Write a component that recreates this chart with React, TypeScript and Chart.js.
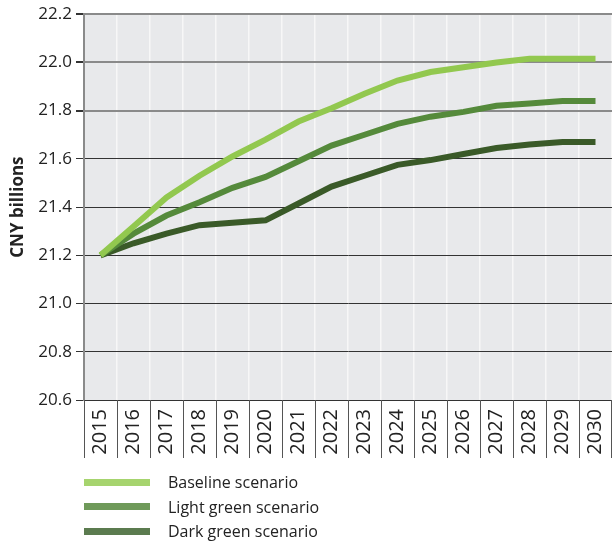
import React, { useEffect, useRef } from "react";
import { Chart, registerables } from "chart.js";

Chart.register(...registerables);

const years = ["2015","2016","2017","2018","2019","2020","2021","2022","2023","2024","2025","2026","2027","2028","2029","2030"];
const baseline = [21.2, 21.32, 21.44, 21.53, 21.61, 21.68, 21.755, 21.81, 21.87, 21.925, 21.96, 21.98, 22.0, 22.015, 22.015, 22.015];
const lightGreen = [21.2, 21.29, 21.365, 21.42, 21.48, 21.525, 21.59, 21.655, 21.70, 21.745, 21.775, 21.795, 21.82, 21.83, 21.84, 21.84];
const darkGreen = [21.2, 21.25, 21.29, 21.325, 21.335, 21.345, 21.415, 21.485, 21.53, 21.575, 21.595, 21.62, 21.645, 21.66, 21.67, 21.67];
const seriesNames = ["Baseline scenario", "Light green scenario", "Dark green scenario"];
const lineColors = ["#92c84f", "#558a3b", "#3a5a28"];
const legendColors = ["#a6d46e", "#6f9a5a", "#5b7b4f"];
const yTicks = [20.6, 20.8, 21.0, 21.2, 21.4, 21.6, 21.8, 22.0, 22.2];

const FONT = "'Open Sans', sans-serif";

const bgPlugin = {
  id: "plotBg",
  beforeDraw(chart: any) {
    const { ctx, chartArea } = chart;
    ctx.save();
    ctx.fillStyle = "#e8e9eb";
    ctx.fillRect(chartArea.left, chartArea.top, chartArea.right - chartArea.left, chartArea.bottom - chartArea.top);
    ctx.restore();
  },
};

const xBoxPlugin = {
  id: "xBoxes",
  afterDraw(chart: any) {
    const { ctx, chartArea } = chart;
    const xs = chart.scales.x;
    const step = xs.getPixelForValue(1) - xs.getPixelForValue(0);
    ctx.save();
    ctx.strokeStyle = "#555";
    ctx.lineWidth = 1;
    for (let i = 0; i <= years.length; i++) {
      const p = i < years.length ? xs.getPixelForValue(i) - step / 2 : xs.getPixelForValue(years.length - 1) + step / 2;
      const x = Math.min(Math.round(p) + 0.5, chart.width - 0.5);
      ctx.beginPath();
      ctx.moveTo(x, chartArea.bottom);
      ctx.lineTo(x, 458);
      ctx.stroke();
    }
    ctx.restore();
  },
};

export default function App() {
  const ref = useRef<HTMLCanvasElement | null>(null);
  useEffect(() => {
    document.body.style.margin = "0";
    const chart = new Chart(ref.current as HTMLCanvasElement, {
      type: "line",
      data: {
        labels: years,
        datasets: [baseline, lightGreen, darkGreen].map((d, i) => ({
          label: seriesNames[i],
          data: d,
          borderColor: lineColors[i],
          backgroundColor: lineColors[i],
          borderWidth: 6,
          pointRadius: 0,
          tension: 0,
          order: i,
        })),
      },
      options: {
        animation: false,
        responsive: false,
        maintainAspectRatio: false,
        layout: { padding: { top: 14, left: 0, right: 0, bottom: 0 } },
        plugins: { legend: { display: false }, tooltip: { enabled: false } },
        scales: {
          x: {
            offset: true,
            grid: { offset: true, color: "#f7f7f7", lineWidth: 1.5, drawTicks: false },
            border: { display: false },
            ticks: {
              autoSkip: false,
              minRotation: 90,
              maxRotation: 90,
              padding: 9,
              color: "#222",
              font: { family: FONT, size: 20 },
            },
            afterFit(scale: any) {
              scale.height = 143;
              scale.paddingLeft = 0;
              scale.paddingRight = 0;
            },
          },
          y: {
            min: 20.6,
            max: 22.2,
            afterBuildTicks(scale: any) {
              scale.ticks = yTicks.map((v) => ({ value: v }));
            },
            grid: {
              color: (c: any) => (c.tick && c.tick.value >= 21.75 ? "#8a8a8a" : "#333"),
              lineWidth: (c: any) => (c.tick && c.tick.value >= 21.75 ? 2 : 1),
              tickColor: "#333",
              tickLength: 8,
            },
            border: { color: "#8a8a8a", width: 2 },
            ticks: {
              padding: 4,
              color: "#222",
              font: { family: FONT, size: 17 },
              callback: (v: any) => Number(v).toFixed(1),
            },
            title: {
              display: true,
              text: "CNY billions",
              color: "#222",
              font: { family: FONT, size: 17, weight: "bold" },
              padding: { top: 8, bottom: 4 },
            },
            afterFit(scale: any) {
              scale.width = 84;
            },
          },
        },
      },
      plugins: [bgPlugin, xBoxPlugin],
    } as any);
    return () => chart.destroy();
  }, []);

  return (
    <div style={{ position: "relative", width: 612, height: 543, fontFamily: FONT }}>
      <canvas ref={ref} width={612} height={543} style={{ display: "block", width: 612, height: 543 }} />
      <div style={{ position: "absolute", left: 84, top: 470 }}>
        {seriesNames.map((n, i) => (
          <div key={n} style={{ display: "flex", alignItems: "center", height: 24.5 }}>
            <div style={{ width: 66, height: 7, background: legendColors[i], marginRight: 18 }} />
            <span style={{ fontSize: 16, color: "#222" }}>{n}</span>
          </div>
        ))}
      </div>
    </div>
  );
}
